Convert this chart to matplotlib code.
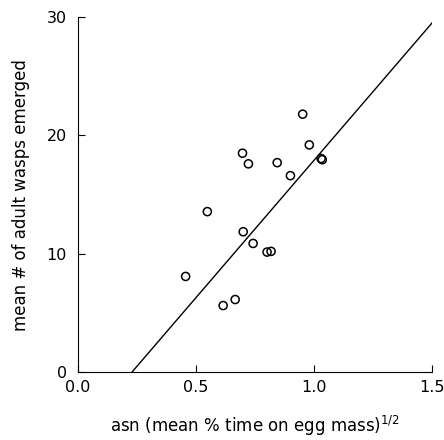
import numpy as np
import matplotlib
matplotlib.use('Agg')
import matplotlib.pyplot as plt

plt.rcParams['font.family'] = ['DejaVu Sans']
plt.rcParams['mathtext.default'] = 'regular'

# asn (sqrt of mean % time on egg mass) vs mean # adult wasps emerged
asn = [0.952, 0.980, 1.035, 1.030, 0.697, 0.722, 0.844, 0.900, 0.548,
       0.700, 0.742, 0.801, 0.818, 0.456, 0.615, 0.666]
wasps = [21.8, 19.2, 17.95, 18.05, 18.5, 17.6, 17.7, 16.6, 13.56,
         11.86, 10.87, 10.14, 10.2, 8.08, 5.62, 6.13]

# fitted regression line end points
line_x = [0.229, 1.504]
line_y = [0.0, 29.6]

fig = plt.figure(figsize=(4.44, 4.40), dpi=100)
ax = fig.add_axes([0.1757, 0.1545, 0.7973, 0.8065])

ax.plot(line_x, line_y, color='black', linewidth=1.0)
ax.scatter(asn, wasps, s=34, facecolors='none', edgecolors='black',
           linewidths=1.1, zorder=3)

ax.set_xlim(0, 1.5)
ax.set_ylim(0, 30)
ax.set_xticks([0.0, 0.5, 1.0, 1.5])
ax.set_xticklabels(['0.0', '0.5', '1.0', '1.5'])
ax.set_yticks([0, 10, 20, 30])

for s in ['top', 'right']:
    ax.spines[s].set_visible(False)
for s in ['left', 'bottom']:
    ax.spines[s].set_linewidth(0.8)

ax.tick_params(direction='in', length=5, width=0.8, labelsize=11.5, colors='black')
ax.tick_params(axis='x', pad=6)
ax.tick_params(axis='y', pad=8)

ax.set_xlabel('asn (mean % time on egg mass)$^{1/2}$', fontsize=12, labelpad=13)
ax.set_ylabel('mean # of adult wasps emerged', fontsize=12, labelpad=12)

fig.savefig('out.png', dpi=100)
